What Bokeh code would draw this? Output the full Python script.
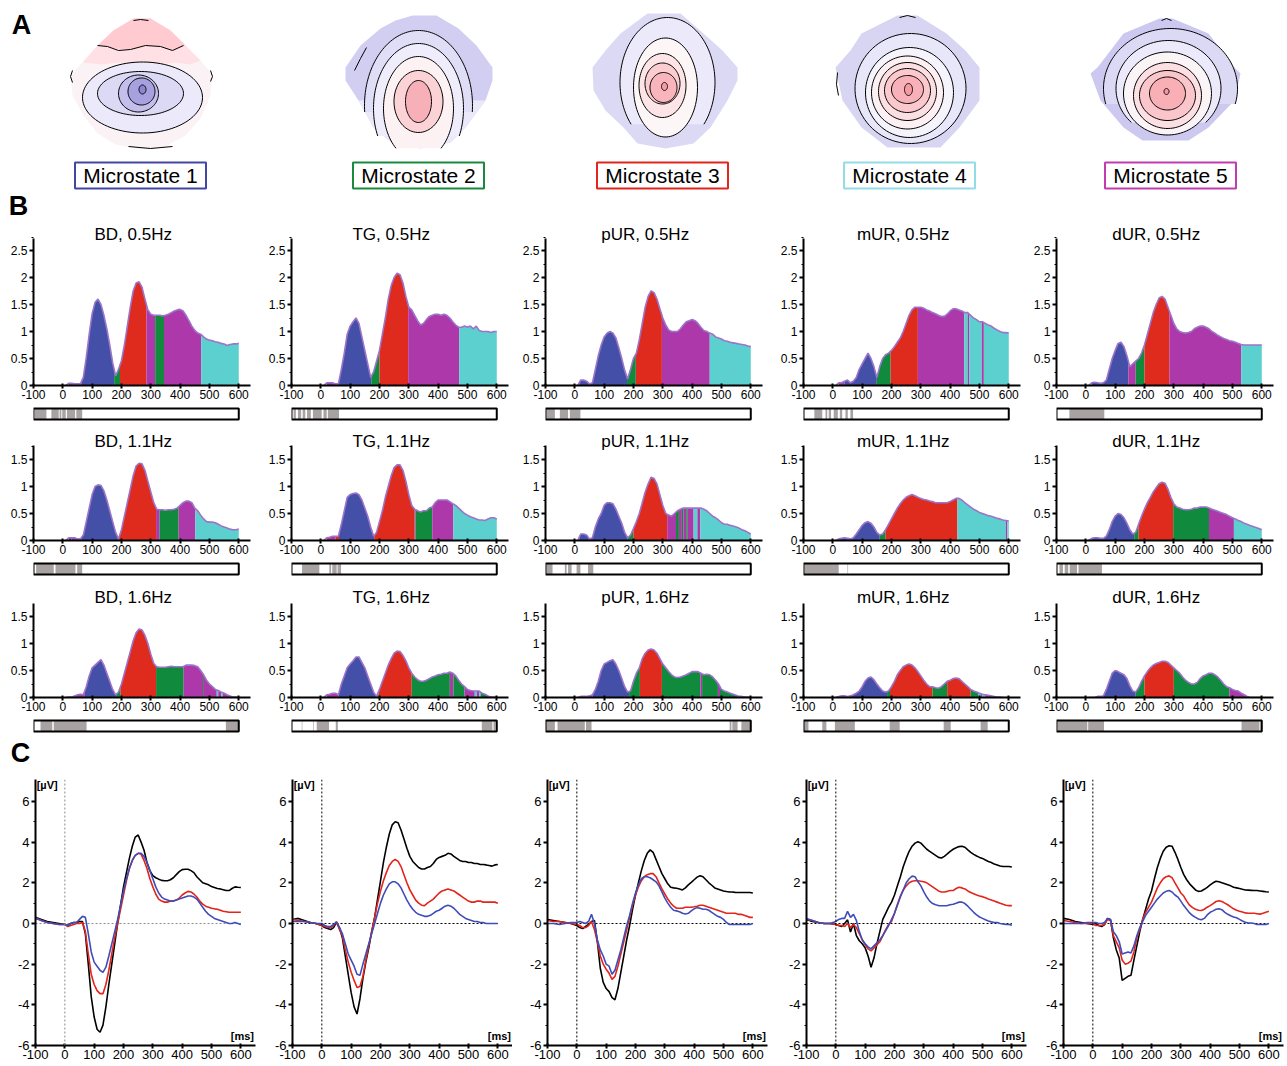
import numpy as np
from bokeh.plotting import figure
from bokeh.layouts import column, row
from bokeh.models import Range1d, FixedTicker, CustomJSTickFormatter, Span
from bokeh.core.properties import value
from bokeh.embed import file_html
from bokeh.resources import INLINE

FONT = "Liberation Sans"

# ---------------------------------------------------------------- data
STATES = ["Microstate 1", "Microstate 2", "Microstate 3", "Microstate 4", "Microstate 5"]
GROUPS = ["BD", "TG", "pUR", "mUR", "dUR"]
FREQS = ["0.5Hz", "1.1Hz", "1.6Hz"]
X_TICKS = [-100, 0, 100, 200, 300, 400, 500, 600]
T_GFP = list(range(0, 601, 10))
T_ERP = [-100, -80, -60, -40, -20] + list(range(0, 601, 10))

GFP_BD_05 = [0, 0, 0.04, 0.04, 0.03, 0.03, 0.03, 0.15, 0.52, 0.95,
             1.33, 1.54, 1.6, 1.5, 1.3, 1.05, 0.75, 0.42, 0.18, 0.3,
             0.46, 0.75, 1.1, 1.45, 1.75, 1.9, 1.92, 1.82, 1.6, 1.4,
             1.32, 1.3, 1.3, 1.3, 1.29, 1.3, 1.32, 1.35, 1.38, 1.4,
             1.41, 1.38, 1.3, 1.2, 1.1, 1.02, 0.97, 0.95, 0.9, 0.86,
             0.84, 0.83, 0.81, 0.8, 0.78, 0.77, 0.74, 0.76, 0.77, 0.77, 0.78]
GFP_BD_11 = [0, 0, 0.05, 0.05, 0.05, 0.03, 0.03, 0.1, 0.35, 0.6,
             0.85, 1.0, 1.03, 1.02, 0.92, 0.75, 0.55, 0.35, 0.15, 0.03,
             0.2, 0.45, 0.7, 0.95, 1.2, 1.38, 1.43, 1.42, 1.3, 1.1,
             0.9, 0.7, 0.58, 0.57, 0.57, 0.56, 0.57, 0.57, 0.58, 0.6,
             0.65, 0.7, 0.73, 0.73, 0.7, 0.6, 0.55, 0.47, 0.4, 0.35,
             0.34, 0.34, 0.33, 0.3, 0.27, 0.25, 0.23, 0.21, 0.2, 0.2, 0.21]
GFP_BD_16 = [0, 0, 0.01, 0.01, 0.03, 0.05, 0.06, 0.05, 0.2, 0.4,
             0.55, 0.6, 0.65, 0.7, 0.6, 0.45, 0.3, 0.15, 0.05, 0.1,
             0.25, 0.45, 0.65, 0.85, 1.05, 1.2, 1.27, 1.25, 1.15, 1.0,
             0.8, 0.63, 0.57, 0.56, 0.56, 0.56, 0.57, 0.58, 0.57, 0.57,
             0.57, 0.57, 0.6, 0.6, 0.6, 0.59, 0.57, 0.5, 0.42, 0.32,
             0.25, 0.2, 0.15, 0.13, 0.1, 0.08, 0.05, 0.03, 0.01, 0.01, 0]
GFP_TG_05 = [0, 0, 0.05, 0.05, 0.05, 0.03, 0.03, 0.3, 0.6, 0.95,
             1.1, 1.18, 1.25, 1.15, 0.9, 0.65, 0.4, 0.15, 0.25, 0.45,
             0.65, 0.95, 1.25, 1.6, 1.85, 2.0, 2.08, 2.05, 1.9, 1.65,
             1.45, 1.4, 1.3, 1.2, 1.12, 1.15, 1.22, 1.28, 1.3, 1.32,
             1.32, 1.3, 1.32, 1.3, 1.25, 1.18, 1.12, 1.08, 1.08, 1.1,
             1.08, 1.1, 1.05, 1.1, 1.02, 1.0, 1.0, 1.0, 0.98, 1.0, 1.0]
GFP_TG_11 = [0, 0, 0.05, 0.06, 0.08, 0.08, 0.08, 0.3, 0.55, 0.8,
             0.85, 0.87, 0.88, 0.85, 0.75, 0.6, 0.45, 0.25, 0.08, 0.15,
             0.35, 0.55, 0.8, 1.0, 1.2, 1.35, 1.4, 1.4, 1.3, 1.1,
             0.85, 0.65, 0.58, 0.55, 0.53, 0.55, 0.55, 0.6, 0.62, 0.7,
             0.75, 0.75, 0.75, 0.75, 0.72, 0.68, 0.65, 0.6, 0.55, 0.5,
             0.47, 0.44, 0.42, 0.4, 0.38, 0.38, 0.37, 0.4, 0.42, 0.42, 0.4]
GFP_TG_16 = [0, 0, 0.05, 0.06, 0.08, 0.08, 0.05, 0.25, 0.4, 0.55,
             0.62, 0.68, 0.75, 0.75, 0.65, 0.55, 0.4, 0.25, 0.1, 0.02,
             0.15, 0.3, 0.45, 0.6, 0.72, 0.82, 0.86, 0.85, 0.78, 0.68,
             0.55, 0.45, 0.38, 0.33, 0.3, 0.3, 0.32, 0.35, 0.38, 0.4,
             0.42, 0.43, 0.45, 0.45, 0.47, 0.45, 0.4, 0.32, 0.25, 0.2,
             0.15, 0.13, 0.12, 0.12, 0.12, 0.08, 0.06, 0.03, 0.01, 0.01, 0]
GFP_PUR_05 = [0, 0, 0.1, 0.1, 0.08, 0.03, 0.05, 0.3, 0.55, 0.75,
              0.9, 0.97, 1.0, 0.97, 0.88, 0.7, 0.5, 0.28, 0.12, 0.3,
              0.5, 0.6, 0.85, 1.15, 1.45, 1.65, 1.75, 1.72, 1.6, 1.42,
              1.25, 1.12, 1.03, 1.0, 1.0, 1.0, 1.05, 1.12, 1.18, 1.2,
              1.22, 1.2, 1.15, 1.08, 1.02, 1.0, 0.97, 0.95, 0.9, 0.88,
              0.86, 0.83, 0.82, 0.8, 0.79, 0.78, 0.77, 0.76, 0.75, 0.73, 0.72]
GFP_PUR_11 = [0, 0, 0.12, 0.12, 0.1, 0.03, 0.05, 0.25, 0.4, 0.5,
              0.65, 0.7, 0.7, 0.68, 0.58, 0.45, 0.32, 0.15, 0.05, 0.1,
              0.22, 0.35, 0.5, 0.7, 0.9, 1.05, 1.17, 1.15, 1.05, 0.85,
              0.65, 0.5, 0.47, 0.45, 0.5, 0.55, 0.58, 0.6, 0.6, 0.6,
              0.6, 0.6, 0.6, 0.6, 0.58, 0.55, 0.5, 0.45, 0.42, 0.38,
              0.33, 0.3, 0.3, 0.28, 0.27, 0.25, 0.23, 0.2, 0.18, 0.15, 0.12]
GFP_PUR_16 = [0, 0, 0.02, 0.02, 0.02, 0.03, 0.05, 0.15, 0.3, 0.5,
              0.62, 0.65, 0.68, 0.7, 0.62, 0.5, 0.35, 0.2, 0.1, 0.12,
              0.3, 0.45, 0.55, 0.72, 0.82, 0.88, 0.9, 0.88, 0.82, 0.72,
              0.62, 0.55, 0.48, 0.42, 0.38, 0.37, 0.38, 0.4, 0.42, 0.45,
              0.48, 0.48, 0.48, 0.45, 0.42, 0.43, 0.42, 0.38, 0.32, 0.25,
              0.15, 0.12, 0.1, 0.08, 0.06, 0.04, 0.02, 0.02, 0.01, 0.01, 0]
GFP_MUR_05 = [0, 0, 0.05, 0.05, 0.08, 0.1, 0.05, 0.08, 0.15, 0.3,
              0.4, 0.5, 0.6, 0.5, 0.35, 0.15, 0.35, 0.5, 0.57, 0.6,
              0.65, 0.72, 0.8, 0.88, 1.0, 1.15, 1.3, 1.4, 1.45, 1.45,
              1.45, 1.43, 1.4, 1.38, 1.35, 1.33, 1.3, 1.28, 1.28, 1.32,
              1.38, 1.42, 1.42, 1.4, 1.38, 1.35, 1.35, 1.3, 1.25, 1.22,
              1.18, 1.18, 1.15, 1.12, 1.1, 1.06, 1.03, 1.0, 0.98, 0.98, 0.97]
GFP_MUR_11 = [0, 0, 0.03, 0.04, 0.05, 0.04, 0.03, 0.05, 0.12, 0.2,
              0.28, 0.33, 0.35, 0.32, 0.25, 0.15, 0.1, 0.12, 0.2, 0.3,
              0.4, 0.5, 0.6, 0.68, 0.75, 0.8, 0.83, 0.85, 0.83, 0.8,
              0.78, 0.76, 0.75, 0.73, 0.72, 0.7, 0.7, 0.7, 0.7, 0.7,
              0.72, 0.75, 0.78, 0.78, 0.75, 0.7, 0.66, 0.62, 0.58, 0.55,
              0.52, 0.5, 0.48, 0.46, 0.45, 0.43, 0.41, 0.4, 0.38, 0.37, 0.36]
GFP_MUR_16 = [0, 0, 0.02, 0.03, 0.03, 0.02, 0.03, 0.05, 0.08, 0.12,
              0.2, 0.3, 0.36, 0.38, 0.33, 0.25, 0.18, 0.12, 0.1, 0.12,
              0.2, 0.3, 0.42, 0.5, 0.57, 0.6, 0.62, 0.6, 0.55, 0.48,
              0.4, 0.32, 0.25, 0.2, 0.2, 0.18, 0.17, 0.2, 0.25, 0.3,
              0.32, 0.35, 0.36, 0.35, 0.3, 0.25, 0.2, 0.15, 0.12, 0.1,
              0.08, 0.06, 0.05, 0.04, 0.03, 0.02, 0.01, 0.01, 0, 0, 0]
GFP_DUR_05 = [0, 0, 0.05, 0.06, 0.05, 0.04, 0.05, 0.1, 0.3, 0.5,
              0.65, 0.78, 0.8, 0.72, 0.55, 0.35, 0.4, 0.45, 0.5, 0.6,
              0.75, 0.95, 1.15, 1.35, 1.5, 1.62, 1.65, 1.6, 1.45, 1.3,
              1.15, 1.05, 1.0, 0.98, 0.97, 0.98, 1.0, 1.05, 1.08, 1.1,
              1.1, 1.08, 1.05, 1.0, 0.97, 0.93, 0.9, 0.87, 0.85, 0.83,
              0.82, 0.8, 0.78, 0.76, 0.75, 0.75, 0.75, 0.75, 0.75, 0.75, 0.75]
GFP_DUR_11 = [0, 0, 0.04, 0.05, 0.05, 0.04, 0.04, 0.08, 0.2, 0.35,
              0.45, 0.5, 0.48, 0.42, 0.32, 0.2, 0.12, 0.15, 0.3, 0.45,
              0.58, 0.7, 0.8, 0.9, 0.98, 1.05, 1.08, 1.06, 0.95, 0.8,
              0.68, 0.62, 0.6, 0.58, 0.57, 0.57, 0.58, 0.6, 0.6, 0.62,
              0.62, 0.62, 0.6, 0.58, 0.56, 0.54, 0.52, 0.5, 0.48, 0.45,
              0.42, 0.4, 0.37, 0.35, 0.32, 0.3, 0.28, 0.26, 0.24, 0.22, 0.2]
GFP_DUR_16 = [0, 0, 0, 0, 0.02, 0.02, 0.03, 0.15, 0.3, 0.45,
              0.5, 0.48, 0.45, 0.42, 0.35, 0.22, 0.12, 0.1, 0.18, 0.3,
              0.4, 0.48, 0.55, 0.6, 0.63, 0.65, 0.67, 0.67, 0.65, 0.6,
              0.55, 0.5, 0.45, 0.38, 0.32, 0.28, 0.25, 0.25, 0.28, 0.35,
              0.4, 0.42, 0.45, 0.45, 0.42, 0.38, 0.32, 0.25, 0.2, 0.18,
              0.15, 0.13, 0.12, 0.08, 0.05, 0.02, 0, 0, 0, 0, 0]

# microstate segments: (start ms, end ms, microstate number)
SEG_BD_05 = [(20, 65, 5), (65, 175, 1), (175, 195, 2), (195, 285, 3), (285, 315, 5), (315, 345, 2), (345, 472, 5), (472, 600, 4)]
SEG_BD_11 = [(20, 30, 1), (30, 65, 5), (65, 190, 1), (190, 318, 3), (318, 330, 5), (330, 395, 2), (395, 452, 5), (452, 600, 4)]
SEG_BD_16 = [(20, 75, 5), (75, 182, 1), (182, 197, 2), (197, 318, 3), (318, 412, 2), (412, 478, 5), (478, 481, 2), (481, 525, 5),
             (525, 530, 4), (530, 540, 5), (540, 545, 4), (545, 600, 5)]
SEG_TG_05 = [(20, 62, 5), (62, 172, 1), (172, 200, 2), (200, 298, 3), (298, 472, 5), (472, 600, 4)]
SEG_TG_11 = [(20, 50, 5), (50, 62, 3), (62, 182, 1), (182, 320, 3), (320, 323, 5), (323, 380, 2), (380, 452, 5), (452, 600, 4)]
SEG_TG_16 = [(20, 60, 5), (60, 192, 1), (192, 197, 2), (197, 310, 3), (310, 440, 2), (440, 452, 5), (452, 490, 2), (490, 525, 5),
             (525, 532, 4), (532, 540, 5), (540, 545, 4), (545, 600, 2)]
SEG_PUR_05 = [(15, 45, 1), (45, 55, 5), (55, 178, 1), (178, 208, 2), (208, 297, 3), (297, 460, 5), (460, 600, 4)]
SEG_PUR_11 = [(15, 45, 1), (45, 55, 5), (55, 180, 1), (180, 200, 2), (200, 315, 3), (315, 345, 5), (345, 355, 2), (355, 365, 5),
              (365, 370, 2), (370, 380, 5), (380, 385, 2), (385, 405, 5), (405, 418, 4), (418, 428, 5), (428, 600, 4)]
SEG_PUR_16 = [(15, 60, 5), (60, 185, 1), (185, 222, 2), (222, 297, 3), (297, 428, 2), (428, 434, 5), (434, 488, 2), (488, 495, 5), (495, 600, 2)]
SEG_MUR_05 = [(20, 40, 5), (40, 150, 1), (150, 197, 2), (197, 290, 3), (290, 448, 5), (448, 460, 4), (460, 465, 5), (465, 508, 4),
              (508, 515, 5), (515, 600, 4)]
SEG_MUR_11 = [(20, 160, 1), (160, 180, 2), (180, 425, 3), (425, 590, 4), (590, 595, 5), (595, 600, 4)]
SEG_MUR_16 = [(20, 185, 1), (185, 195, 2), (195, 340, 3), (340, 390, 2), (390, 470, 3), (470, 495, 2), (495, 505, 4), (505, 510, 5),
              (510, 520, 4), (520, 600, 5)]
SEG_DUR_05 = [(20, 145, 1), (145, 170, 5), (170, 200, 2), (200, 285, 3), (285, 530, 5), (530, 600, 4)]
SEG_DUR_11 = [(20, 165, 1), (165, 180, 2), (180, 298, 3), (298, 420, 2), (420, 505, 5), (505, 600, 4)]
SEG_DUR_16 = [(35, 60, 5), (60, 170, 1), (170, 200, 2), (200, 300, 3), (300, 490, 2), (490, 560, 5)]

# significance strips (grey intervals, ms)
GRAY_BD_05 = [(-95, -56), (-39, -14), (-11, -5), (-2, 10), (14, 42), (46, 66)]
GRAY_BD_11 = [(-91, -31), (-25, 43), (49, 66)]
GRAY_BD_16 = [(-76, -36), (-31, 81), (556, 598)]
GRAY_TG_05 = [(-93, -85), (-78, -67), (-62, -53), (-47, -34), (-27, 3), (9, 20), (24, 62)]
GRAY_TG_11 = [(-64, -5), (29, 35), (39, 54), (57, 69)]
GRAY_TG_16 = [(-65, -63), (-26, -24), (-14, 28), (51, 58), (549, 585), (589, 596)]
GRAY_PUR_05 = [(-97, -68), (-51, -23), (-17, 19)]
GRAY_PUR_11 = [(-97, -76), (-34, -28), (-23, -11), (6, 19), (45, 63)]
GRAY_PUR_16 = [(-99, -68), (-59, 34), (38, 57), (528, 534), (537, 555), (568, 600)]
GRAY_MUR_05 = [(-63, -36), (-25, -19), (-14, -6), (3, 17), (24, 32), (43, 51), (60, 69)]
GRAY_MUR_11 = [(-97, 20), (50, 52)]
GRAY_MUR_16 = [(-98, -83), (-36, -22), (7, 75), (194, 228), (378, 402), (504, 528)]
GRAY_DUR_05 = [(-56, 63)]
GRAY_DUR_11 = [(-90, -78), (-72, -60), (-55, -30), (-25, 55)]
GRAY_DUR_16 = [(-97, 5), (8, 62), (531, 592), (595, 600)]

# ERPs (uV) at T_ERP; black = 0.5 Hz, red = 1.1 Hz, blue = 1.6 Hz
ERP_BD_05 = [0.3, 0.2, 0.1, 0.05, 0.0,
             -0.05, -0.1, 0.0, 0.05, 0.05, 0.1, 0.1, -0.5, -2.0, -3.6,
             -4.6, -5.2, -5.35, -5.0, -4.1, -3.0, -2.0, -1.0, 0.0, 0.9,
             1.8, 2.5, 3.2, 3.8, 4.25, 4.35, 4.0, 3.6, 3.0, 2.6,
             2.35, 2.25, 2.18, 2.12, 2.1, 2.1, 2.15, 2.25, 2.4, 2.55,
             2.65, 2.67, 2.67, 2.6, 2.5, 2.3, 2.15, 2.0, 1.95, 1.9,
             1.82, 1.77, 1.72, 1.7, 1.66, 1.62, 1.62, 1.72, 1.8, 1.78, 1.77]
ERP_BD_11 = [0.25, 0.15, 0.05, 0.0, -0.05,
             -0.05, -0.15, -0.1, -0.05, 0.0, 0.0, 0.05, -0.4, -1.5, -2.5,
             -3.0, -3.3, -3.45, -3.45, -3.0, -2.3, -1.5, -0.7, 0.0, 0.7,
             1.4, 2.1, 2.7, 3.1, 3.35, 3.45, 3.4, 3.1, 2.7, 2.2,
             1.8, 1.45, 1.2, 1.1, 1.05, 1.05, 1.1, 1.1, 1.15, 1.25,
             1.4, 1.5, 1.58, 1.55, 1.45, 1.3, 1.1, 0.95, 0.85, 0.8,
             0.75, 0.72, 0.7, 0.65, 0.6, 0.58, 0.55, 0.55, 0.55, 0.55, 0.55]
ERP_BD_16 = [0.3, 0.15, 0.05, 0.0, -0.05,
             -0.05, -0.1, 0.0, 0.05, 0.05, 0.2, 0.35, 0.3, -0.5, -1.4,
             -1.9, -2.1, -2.3, -2.4, -2.15, -1.6, -1.0, -0.4, 0.2, 0.9,
             1.6, 2.2, 2.7, 3.1, 3.35, 3.45, 3.45, 3.3, 3.0, 2.6,
             2.2, 1.8, 1.5, 1.3, 1.2, 1.15, 1.1, 1.1, 1.15, 1.2,
             1.25, 1.3, 1.35, 1.35, 1.3, 1.2, 1.0, 0.8, 0.6, 0.45,
             0.35, 0.25, 0.2, 0.15, 0.1, 0.05, 0.0, 0.0, 0.05, 0.0, -0.05]
ERP_TG_05 = [0.2, 0.25, 0.15, 0.05, 0.0,
             -0.1, -0.2, -0.25, -0.3, -0.2, 0.05, -0.2, -0.7, -1.6, -2.5,
             -3.4, -4.1, -4.45, -3.7, -2.7, -1.9, -1.2, -0.4, 0.3, 1.2,
             2.1, 3.0, 3.75, 4.4, 4.85, 5.0, 4.95, 4.6, 4.15, 3.7,
             3.3, 3.05, 2.9, 2.75, 2.68, 2.68, 2.75, 2.8, 2.95, 3.15,
             3.25, 3.3, 3.35, 3.45, 3.42, 3.3, 3.2, 3.1, 3.05, 3.05,
             3.0, 3.0, 2.95, 2.95, 2.9, 2.9, 2.88, 2.85, 2.82, 2.88, 2.9]
ERP_TG_11 = [0.2, 0.15, 0.1, 0.05, 0.0,
             -0.1, -0.15, -0.2, -0.2, -0.1, 0.1, -0.3, -0.6, -1.3, -1.9,
             -2.4, -2.8, -3.15, -3.1, -2.6, -1.8, -1.1, -0.4, 0.3, 1.0,
             1.6, 2.1, 2.5, 2.85, 3.05, 3.15, 3.05, 2.8, 2.4, 2.0,
             1.65, 1.4, 1.15, 1.0, 0.9, 0.88, 1.0, 1.1, 1.2, 1.35,
             1.5, 1.6, 1.65, 1.7, 1.65, 1.6, 1.5, 1.4, 1.3, 1.2,
             1.1, 1.05, 1.05, 1.1, 1.1, 1.05, 1.05, 1.05, 1.05, 1.05, 1.0]
ERP_TG_16 = [0.1, 0.1, 0.1, 0.05, 0.0,
             0.0, -0.1, -0.15, -0.15, -0.05, 0.05, -0.2, -0.5, -1.0, -1.5,
             -1.8, -2.1, -2.5, -2.55, -2.0, -1.5, -1.0, -0.5, 0.0, 0.5,
             1.0, 1.4, 1.7, 1.95, 2.05, 2.05, 1.95, 1.75, 1.45, 1.15,
             0.9, 0.7, 0.55, 0.45, 0.4, 0.35, 0.35, 0.4, 0.5, 0.6,
             0.65, 0.75, 0.85, 0.9, 0.85, 0.75, 0.6, 0.45, 0.35, 0.25,
             0.2, 0.15, 0.1, 0.1, 0.05, 0.05, 0.0, 0.0, 0.0, 0.0, 0.0]
ERP_PUR_05 = [0.2, 0.15, 0.1, 0.05, 0.0,
              -0.1, -0.2, -0.25, -0.15, -0.05, 0.1, 0.15, -0.9, -2.2, -2.9,
              -3.2, -3.35, -3.65, -3.75, -3.2, -2.4, -1.6, -0.8, -0.1, 0.7,
              1.4, 2.0, 2.6, 3.1, 3.45, 3.62, 3.5, 3.15, 2.8, 2.45,
              2.2, 1.95, 1.78, 1.75, 1.73, 1.7, 1.65, 1.75, 1.9, 2.02,
              2.15, 2.28, 2.35, 2.3, 2.15, 2.0, 1.88, 1.75, 1.7, 1.65,
              1.6, 1.57, 1.55, 1.55, 1.53, 1.52, 1.52, 1.52, 1.52, 1.52, 1.5]
ERP_PUR_11 = [0.15, 0.1, 0.1, 0.05, 0.0,
              -0.05, -0.1, -0.2, -0.2, -0.1, 0.1, -0.3, -0.9, -1.6, -2.0,
              -2.25, -2.45, -2.75, -2.6, -2.1, -1.5, -0.9, -0.3, 0.3, 0.9,
              1.4, 1.8, 2.1, 2.3, 2.4, 2.45, 2.45, 2.3, 2.0, 1.7,
              1.45, 1.2, 1.0, 0.85, 0.75, 0.75, 0.75, 0.8, 0.8, 0.8,
              0.82, 0.85, 0.9, 0.9, 0.85, 0.8, 0.75, 0.7, 0.65, 0.6,
              0.55, 0.5, 0.5, 0.5, 0.5, 0.45, 0.45, 0.4, 0.35, 0.3, 0.3]
ERP_PUR_16 = [0.0, 0.0, -0.05, 0.0, 0.05,
              0.05, 0.1, 0.05, 0.0, 0.1, 0.45, 0.0, -0.8, -1.3, -1.6,
              -2.0, -2.1, -2.5, -2.3, -1.8, -1.3, -0.7, -0.1, 0.4, 1.0,
              1.5, 1.9, 2.2, 2.3, 2.3, 2.25, 2.15, 2.05, 1.85, 1.55,
              1.25, 1.0, 0.8, 0.65, 0.62, 0.58, 0.5, 0.47, 0.5, 0.62,
              0.72, 0.78, 0.75, 0.7, 0.7, 0.65, 0.55, 0.45, 0.35, 0.3,
              0.2, 0.05, -0.05, -0.05, -0.05, -0.05, -0.05, -0.05, -0.05, -0.05, 0.0]
ERP_MUR_05 = [0.2, 0.1, 0.05, 0.0, 0.0,
              -0.05, -0.1, -0.15, 0.0, 0.18, -0.42, 0.0, -0.6, -0.85, -1.0,
              -1.2, -1.6, -2.15, -1.7, -1.0, -0.4, 0.2, 0.5, 0.8, 1.05,
              1.4, 1.85, 2.3, 2.8, 3.2, 3.55, 3.8, 3.95, 4.02, 3.95,
              3.8, 3.65, 3.55, 3.45, 3.35, 3.25, 3.22, 3.3, 3.42, 3.55,
              3.65, 3.72, 3.78, 3.8, 3.75, 3.62, 3.5, 3.4, 3.32, 3.25,
              3.2, 3.12, 3.05, 3.0, 2.92, 2.88, 2.83, 2.8, 2.8, 2.8, 2.78]
ERP_MUR_11 = [0.2, 0.15, 0.05, 0.0, 0.0,
              -0.05, -0.1, -0.1, -0.15, 0.0, -0.2, -0.05, -0.2, -0.5, -0.8,
              -1.05, -1.25, -1.35, -1.2, -1.05, -0.9, -0.6, -0.3, -0.05, 0.1,
              0.5, 0.95, 1.35, 1.65, 1.85, 2.0, 2.08, 2.1, 2.1, 2.08,
              2.05, 2.0, 1.9, 1.8, 1.7, 1.6, 1.55, 1.55, 1.58, 1.62,
              1.62, 1.72, 1.78, 1.75, 1.7, 1.6, 1.52, 1.46, 1.4, 1.35,
              1.32, 1.26, 1.2, 1.15, 1.1, 1.05, 1.0, 0.95, 0.9, 0.88, 0.88]
ERP_MUR_16 = [0.25, 0.15, 0.05, 0.0, 0.0,
              0.1, 0.2, 0.25, 0.25, 0.6, 0.3, 0.45, 0.15, -0.4, -0.8,
              -1.0, -1.15, -1.25, -1.1, -0.95, -0.8, -0.6, -0.35, -0.1, 0.2,
              0.5, 0.9, 1.3, 1.65, 2.0, 2.2, 2.33, 2.3, 2.05, 1.85,
              1.55, 1.3, 1.1, 0.98, 0.92, 0.88, 0.87, 0.87, 0.88, 0.92,
              0.95, 1.0, 1.05, 1.05, 0.98, 0.85, 0.7, 0.55, 0.42, 0.32,
              0.25, 0.18, 0.12, 0.08, 0.05, 0.05, 0.0, -0.02, -0.05, -0.05, -0.08]
ERP_DUR_05 = [0.25, 0.2, 0.1, 0.05, 0.0,
              -0.05, 0.0, -0.1, -0.15, -0.05, 0.25, 0.2, -0.7, -1.3, -1.7,
              -2.8, -2.7, -2.6, -2.55, -1.8, -1.1, -0.4, 0.2, 0.7, 1.2,
              1.6, 2.2, 2.75, 3.2, 3.55, 3.75, 3.82, 3.8, 3.5, 3.15,
              2.75, 2.4, 2.15, 1.95, 1.8, 1.65, 1.58, 1.6, 1.68, 1.78,
              1.9, 2.0, 2.08, 2.05, 2.0, 1.95, 1.9, 1.85, 1.78, 1.75,
              1.72, 1.68, 1.65, 1.64, 1.63, 1.62, 1.62, 1.6, 1.58, 1.56, 1.55]
ERP_DUR_11 = [0.15, 0.1, 0.05, 0.0, 0.0,
              0.0, -0.1, -0.1, -0.1, -0.05, 0.2, 0.15, -0.6, -0.9, -1.2,
              -1.8, -2.0, -1.95, -1.85, -1.4, -0.7, -0.3, 0.2, 0.55, 0.8,
              1.05, 1.4, 1.75, 2.0, 2.2, 2.3, 2.34, 2.25, 2.0, 1.75,
              1.5, 1.35, 1.1, 0.9, 0.78, 0.7, 0.65, 0.64, 0.7, 0.8,
              0.88, 0.98, 1.08, 1.12, 1.08, 1.0, 0.92, 0.82, 0.72, 0.65,
              0.6, 0.56, 0.52, 0.5, 0.5, 0.5, 0.48, 0.46, 0.5, 0.55, 0.6]
ERP_DUR_16 = [0.0, 0.0, 0.0, 0.0, 0.05,
              0.05, 0.05, 0.0, 0.0, 0.05, 0.25, 0.2, -0.4, -0.6, -0.9,
              -1.5, -1.45, -1.4, -1.45, -1.1, -0.6, -0.2, 0.1, 0.4, 0.6,
              0.8, 1.0, 1.2, 1.35, 1.5, 1.58, 1.62, 1.55, 1.4, 1.3,
              1.1, 0.88, 0.7, 0.52, 0.39, 0.3, 0.22, 0.18, 0.25, 0.42,
              0.55, 0.62, 0.7, 0.72, 0.68, 0.55, 0.45, 0.38, 0.32, 0.28,
              0.2, 0.12, 0.06, 0.02, 0.02, 0.0, -0.05, -0.05, -0.05, -0.05, 0.0]

GFP = [[GFP_BD_05, GFP_BD_11, GFP_BD_16], [GFP_TG_05, GFP_TG_11, GFP_TG_16],
       [GFP_PUR_05, GFP_PUR_11, GFP_PUR_16], [GFP_MUR_05, GFP_MUR_11, GFP_MUR_16],
       [GFP_DUR_05, GFP_DUR_11, GFP_DUR_16]]
SEG = [[SEG_BD_05, SEG_BD_11, SEG_BD_16], [SEG_TG_05, SEG_TG_11, SEG_TG_16],
       [SEG_PUR_05, SEG_PUR_11, SEG_PUR_16], [SEG_MUR_05, SEG_MUR_11, SEG_MUR_16],
       [SEG_DUR_05, SEG_DUR_11, SEG_DUR_16]]
GRAY = [[GRAY_BD_05, GRAY_BD_11, GRAY_BD_16], [GRAY_TG_05, GRAY_TG_11, GRAY_TG_16],
        [GRAY_PUR_05, GRAY_PUR_11, GRAY_PUR_16], [GRAY_MUR_05, GRAY_MUR_11, GRAY_MUR_16],
        [GRAY_DUR_05, GRAY_DUR_11, GRAY_DUR_16]]
ERP = [[ERP_BD_05, ERP_BD_11, ERP_BD_16], [ERP_TG_05, ERP_TG_11, ERP_TG_16],
       [ERP_PUR_05, ERP_PUR_11, ERP_PUR_16], [ERP_MUR_05, ERP_MUR_11, ERP_MUR_16],
       [ERP_DUR_05, ERP_DUR_11, ERP_DUR_16]]

# ---------------------------------------------------------------- styles
STATE_COLORS = ["#4450a8", "#108a3c", "#df2a1e", "#5ccfcf", "#ad38a9"]
BOX_COLORS = ["#4347a3", "#1b8a3e", "#e0261d", "#93dbe6", "#c13cae"]
ENV_COLOR = "#9c74c9"
STRIP_GRAY = "#a8a2a2"
ERP_COLORS = ["black", "#e3241b", "#3f4db8"]
FMT = CustomJSTickFormatter(code="return String(tick);")


def new_fig(w, h, xr, yr, **kw):
    p = figure(width=w, height=h, x_range=xr, y_range=yr, output_backend="svg",
               toolbar_location=None, tools="", outline_line_color=None,
               background_fill_color="white", border_fill_color="white", **kw)
    p.xgrid.visible = False
    p.ygrid.visible = False
    return p


def style_axes(p, fs, yticks, yminor):
    for ax in p.axis:
        ax.axis_line_width = 2
        ax.axis_line_color = "black"
        ax.major_tick_line_color = "black"
        ax.major_tick_line_width = 2
        ax.minor_tick_line_color = "black"
        ax.minor_tick_line_width = 1
        ax.major_label_text_font = FONT
        ax.major_label_text_font_size = fs
        ax.major_label_text_color = "black"
        ax.formatter = FMT
    p.xaxis.ticker = FixedTicker(ticks=X_TICKS)
    p.xaxis.major_tick_in = 2
    p.xaxis.major_tick_out = 3
    p.xaxis.major_label_standoff = 1
    p.yaxis.ticker = FixedTicker(ticks=yticks, minor_ticks=yminor)
    p.yaxis.major_tick_in = 0
    p.yaxis.major_tick_out = 4
    p.yaxis.minor_tick_in = 0
    p.yaxis.minor_tick_out = 2
    p.yaxis.major_label_standoff = 2


def arc_pts(cx, cy, w, h, a0, a1, n=90):
    a = np.radians(np.linspace(a0, a1, n))
    return list(cx + w / 2 * np.cos(a)), list(cy - h / 2 * np.sin(a))


# ---------------------------------------------------------------- panel A (topographies)
TOPOS = [
    dict(head=[(133, 18), (150, 18), (170, 30), (185, 45), (200, 60), (212, 74), (210, 95), (200, 118), (185, 135),
               (165, 146), (140, 149), (115, 144), (97, 133), (83, 115), (72, 95), (70, 75), (82, 62), (97, 45), (113, 30)],
         base="#fbf2f6",
         bands=[([(82, 62), (97, 45), (113, 30), (133, 18), (150, 18), (170, 30), (185, 45), (200, 60), (190, 64),
                  (175, 62), (160, 64), (140, 67), (120, 62), (100, 64)], "#ffe1e5"),
                ([(97, 45), (113, 30), (133, 18), (150, 18), (170, 30), (185, 45), (172, 50), (160, 46), (145, 45),
                  (130, 49), (115, 48)], "#ffcbd1")],
         rings=[(142, 97, 120, 71, 0, 360, "#ebe9fa"), (140, 93, 86, 44, 0, 360, "#dcd9f4"),
                (138, 93, 40, 37, 0, 360, "#c3beeb"), (141, 91, 27, 27, 0, 360, "#a7a1df"),
                (142, 89, 7, 9, 0, 360, "#8c85d1")],
         lines=[[(97, 45), (107, 46), (118, 50), (130, 49), (145, 45), (160, 46), (172, 50), (183, 45)],
                [(128, 146), (150, 148), (172, 146)], [(133, 20), (140, 19), (148, 20)],
                [(72, 70), (70, 76), (72, 82)], [(210, 70), (212, 76), (210, 81)]]),
    dict(head=[(412, 15), (436, 15), (458, 28), (476, 45), (492, 67), (492, 80), (485, 100), (465, 127), (450, 142),
               (420, 148), (391, 142), (373, 127), (358, 100), (345, 80), (345, 67), (360, 45), (380, 28), (395, 20)],
         base="#d2cef2",
         bands=[([(358, 100), (373, 127), (391, 142), (420, 148), (450, 142), (465, 127), (485, 100)], "#ebe9f9")],
         rings=[(418, 105, 108, 150, -5, 185, "#e0ddf7"), (418, 108, 90, 130, -25, 205, "#efedfb"),
                (418, 108, 70, 104, -50, 230, "#fdf2f3"), (418, 101, 49, 62, 0, 360, "#fbd2d6"),
                (418, 101, 26, 42, 0, 360, "#f7b0b7")],
         lines=[[(366, 47), (360, 58), (354, 70)]]),
    dict(head=[(647, 13), (680, 13), (703, 33), (722, 50), (737, 67), (737, 80), (727, 100), (710, 127), (693, 143),
               (665, 148), (637, 143), (623, 127), (605, 110), (593, 90), (592, 67), (605, 50), (620, 33)],
         base="#dcd9f5", bands=[],
         rings=[(667, 82, 95, 130, -40, 220, "#eceafa"), (665, 87, 64, 99, 0, 360, "#fdf6f7"),
                (662, 85, 47, 64, 0, 360, "#fde4e6"), (662, 83, 35, 41, 0, 360, "#fbcdd1"),
                (663, 87, 27, 30, 0, 360, "#f8b6bc"), (664, 86, 6, 8, 0, 360, "#f59ca4")],
         lines=[]),
    dict(head=[(897, 15), (917, 15), (946, 33), (965, 50), (979, 67), (979, 100), (959, 127), (940, 147), (887, 147),
               (861, 127), (842, 100), (835, 67), (850, 50), (861, 33)],
         base="#d8d5f3", bands=[],
         rings=[(910, 88, 111, 110, 0, 360, "#e8e6f9"), (909, 92, 88, 90, 0, 360, "#f5f4fc"),
                (907, 92, 72, 73, 0, 360, "#fdf0f2"), (907, 91, 58, 58, 0, 360, "#fcdfe2"),
                (907, 90, 46, 44, 0, 360, "#fac8cd"), (907, 89, 32, 28, 0, 360, "#f8b1b8"),
                (908, 89, 8, 12, 0, 360, "#f59aa2")],
         lines=[[(899, 17), (907, 15), (915, 17)], [(837, 72), (836, 84), (838, 95)]]),
    dict(head=[(1159, 18), (1172, 18), (1208, 33), (1234, 67), (1240, 73), (1234, 100), (1208, 127), (1188, 140),
               (1142, 140), (1123, 127), (1100, 100), (1090, 73), (1097, 67), (1123, 33)],
         base="#ccc8f0", bands=[],
         rings=[(1170, 88, 134, 120, -15, 195, "#dcd9f5"), (1168, 88, 105, 96, -45, 225, "#eceafa"),
                (1167, 93, 88, 83, 0, 360, "#fbf4f6"), (1167, 95, 68, 66, 0, 360, "#fcdfe2"),
                (1167, 95, 56, 50, 0, 360, "#fac6cb"), (1167, 93, 36, 33, 0, 360, "#f8afb6"),
                (1166, 91, 5, 6, 0, 360, "#f59aa2")],
         lines=[[(1161, 20), (1166, 18), (1171, 20)]]),
]
BOX_X = [140, 418, 662, 909, 1170]

figA = new_fig(1287, 220, Range1d(0, 1287), Range1d(220, 0), min_border=0,
               x_axis_location=None, y_axis_location=None)
for tp in TOPOS:
    figA.patch([q[0] for q in tp["head"]], [q[1] for q in tp["head"]], fill_color=tp["base"], line_color=None)
    for pts, col in tp["bands"]:
        figA.patch([q[0] for q in pts], [q[1] for q in pts], fill_color=col, line_color=None)
    xs, ys, cols = [], [], []
    for cx, cy, w, h, a0, a1, col in tp["rings"]:
        ax_, ay_ = arc_pts(cx, cy, w, h, a0, a1)
        xs.append(ax_); ys.append(ay_); cols.append(col)
    figA.patches(xs, ys, fill_color=cols, line_color=None)
    lx = list(xs) + [[q[0] for q in l] for l in tp["lines"]]
    ly = list(ys) + [[q[1] for q in l] for l in tp["lines"]]
    figA.multi_line(lx, ly, line_color="black", line_width=1)
figA.rect(x=BOX_X, y=[175] * 5, width=131, height=26, fill_color="white",
          line_color=BOX_COLORS, line_width=2)
figA.text(x=BOX_X, y=[175] * 5, text=STATES, text_font=value(FONT), text_font_size="21px",
          text_align="center", text_baseline="middle", text_color="black")
figA.text(x=[21, 18], y=[24, 205], text=["A", "B"], text_font=value(FONT), text_font_size="27px",
          text_font_style="bold", text_align="center", text_baseline="middle", text_color="black")

# ---------------------------------------------------------------- panel B (GFP with microstates)
B_WIDTHS = [258, 254, 258, 253, 264]
B_LEFT = 33
B_FRAME_W = 217
B_XMAX = 640
PX_PER_UNIT = 54.0
B_ROWS = [dict(h=185, frame=165, bound=2.72, ticks=[0, 0.5, 1, 1.5, 2, 2.5],
               minor=[0.25, 0.75, 1.25, 1.75, 2.25, 2.75], ty=151),
          dict(h=135, frame=115, bound=1.76, ticks=[0, 0.5, 1, 1.5], minor=[0.25, 0.75, 1.25, 1.75], ty=99),
          dict(h=137, frame=117, bound=1.74, ticks=[0, 0.5, 1, 1.5], minor=[0.25, 0.75, 1.25], ty=100)]

b_rows = []
for r, spec in enumerate(B_ROWS):
    cells = []
    ytop = spec["frame"] / PX_PER_UNIT
    for c in range(5):
        w = B_WIDTHS[c]
        rb = w - B_LEFT - B_FRAME_W
        env = GFP[c][r]
        segs = SEG[c][r]
        p = new_fig(w, spec["h"], Range1d(-100, B_XMAX), Range1d(0, ytop),
                    min_border_left=B_LEFT, min_border_right=rb, min_border_top=0, min_border_bottom=20)
        # coloured microstate bands, then a white mask above the GFP envelope
        band_top = max(env) + 0.1
        p.quad(left=[s[0] for s in segs], right=[s[1] for s in segs], bottom=0, top=band_top,
               fill_color=[STATE_COLORS[s[2] - 1] for s in segs], line_color=None)
        mask_x = T_GFP + [B_XMAX]
        mask_y = env + [0]
        p.varea(x=mask_x, y1=mask_y, y2=[ytop] * len(mask_x), fill_color="white")
        p.line(T_GFP[1:], env[1:], line_color=ENV_COLOR, line_width=1.6)
        p.text(x=[240], y=[spec["ty"] / PX_PER_UNIT], text=[f"{GROUPS[c]}, {FREQS[r]}"],
               text_font=value(FONT), text_font_size="17px", text_align="center",
               text_baseline="middle", text_color="black")
        style_axes(p, "12px", spec["ticks"], spec["minor"])
        p.yaxis.bounds = (0, spec["bound"])

        s = new_fig(w, 20, Range1d(-100, B_XMAX), Range1d(0, 20), min_border_left=B_LEFT,
                    min_border_right=rb, min_border_top=0, min_border_bottom=0,
                    x_axis_location=None, y_axis_location=None)
        g = GRAY[c][r]
        s.quad(left=[a for a, b in g], right=[b for a, b in g], bottom=6, top=17,
               fill_color=STRIP_GRAY, line_color=None)
        s.quad(left=[T_ERP[0]], right=[T_GFP[-1]], bottom=6, top=17, fill_color=None,
               line_color="black", line_width=2)
        cells.append(column(p, s))
    b_rows.append(row(*cells))

# ---------------------------------------------------------------- panel C label
figCl = new_fig(1287, 30, Range1d(0, 1287), Range1d(30, 0), min_border=0,
                x_axis_location=None, y_axis_location=None)
figCl.text(x=[20], y=[15], text=["C"], text_font=value(FONT), text_font_size="27px",
           text_font_style="bold", text_align="center", text_baseline="middle", text_color="black")

# ---------------------------------------------------------------- panel C (ERPs)
C_WIDTHS = [257, 255, 259, 257, 259]
C_LEFT = 35
C_FRAME_W = 220
c_figs = []
for c in range(5):
    w = C_WIDTHS[c]
    p = new_fig(w, 298, Range1d(-100, 650), Range1d(-6, 7.08), min_border_left=C_LEFT,
                min_border_right=w - C_LEFT - C_FRAME_W, min_border_top=12, min_border_bottom=20)
    ref_col = "#8c8c8c" if c == 0 else "black"
    p.add_layout(Span(location=0, dimension="height", line_color=ref_col, line_dash="2 2", line_width=1))
    p.segment(x0=[T_ERP[0]], y0=[0], x1=[T_ERP[-1]], y1=[0], line_color=ref_col,
              line_dash="2 2", line_width=1.2)
    for k in range(3):
        p.line(T_ERP, ERP[c][k], line_color=ERP_COLORS[k], line_width=1.6)
    p.text(x=[-96], y=[6.8], text=["[µV]"], text_font=value(FONT), text_font_size="11px",
           text_font_style="bold", text_align="left", text_baseline="middle", text_color="black")
    p.text(x=[645], y=[-5.55], text=["[ms]"], text_font=value(FONT), text_font_size="11px",
           text_font_style="bold", text_align="right", text_baseline="middle", text_color="black")
    style_axes(p, "13px", [-6, -4, -2, 0, 2, 4, 6], [-5, -3, -1, 1, 3, 5])
    c_figs.append(p)

layout = column(figA, *b_rows, figCl, row(*c_figs))
open("out.html", "w").write(file_html(layout, INLINE))
